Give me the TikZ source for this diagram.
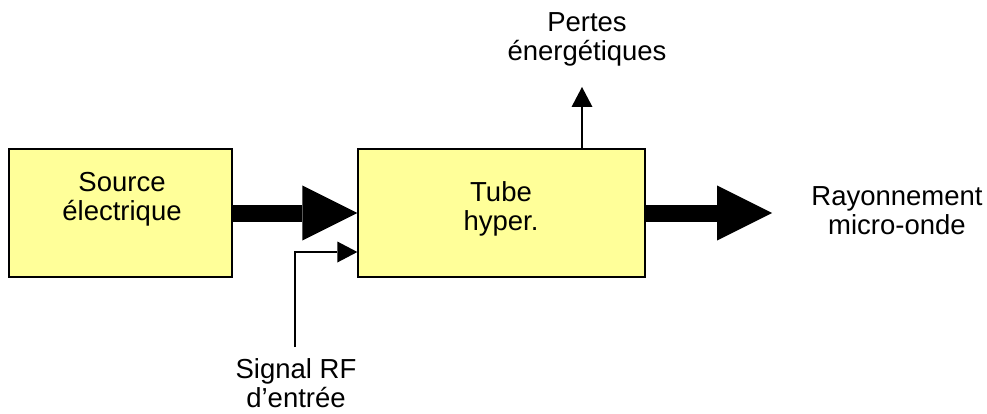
\documentclass[tikz,border=0pt]{standalone}
\usepackage{fontspec}
\setmainfont{Liberation Sans}
\usetikzlibrary{arrows.meta}
\definecolor{boxyellow}{HTML}{FFFF99}

\begin{document}
\begin{tikzpicture}[x=1pt,y=-1pt,
  block/.style={draw,line width=1.3pt,fill=boxyellow,rectangle,inner sep=0pt},
  txt/.style={align=center,font=\fontsize{27.5}{29}\selectfont,inner sep=0pt},
  bigflow/.style={line width=17pt,-{Triangle[length=55pt,width=55pt,line width=0pt]}},
  thinflow/.style={line width=1.3pt,-{Triangle[length=20pt,width=21pt,line width=0pt]}}]
\useasboundingbox (0,0) rectangle (987,414);

\node [block,minimum width=223pt,minimum height=128pt] (src) at (120.5,213) {};
\node [txt] (srclbl) at (122,199) {Source\\électrique};
\node [block,minimum width=287pt,minimum height=128pt] (tube) at (501.5,213) {};
\node [txt] (tubelbl) at (501,209) {Tube\\hyper.};

\node [txt] (pertes) at (587,39) {Pertes\\énergétiques};
\node [txt] (ray) at (897,211) {Rayonnement\\micro-onde};
\node [txt] (rfin) at (296,383) {Signal RF\\d’entrée};

\coordinate (out) at (772,213);
\coordinate (rf) at (295,347);
\coordinate (loss) at (582,87);

\draw [bigflow] (src.east) -- (tube.west);
\draw [bigflow] (tube.east) -- (out);
\draw [thinflow] (rf) |- ([yshift=-39pt]tube.west);
\draw [thinflow] (tube.north -| loss) -- (loss);
\end{tikzpicture}
\end{document}
